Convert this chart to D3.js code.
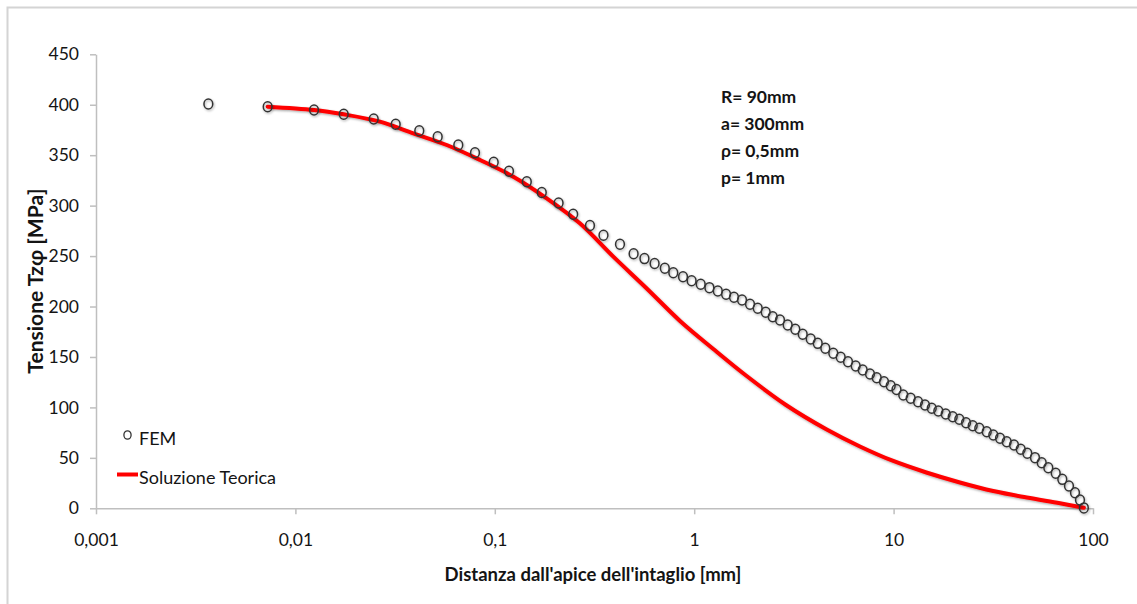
<!DOCTYPE html>
<html>
<head>
<meta charset="utf-8">
<script src="https://cdn.jsdelivr.net/npm/d3@7"></script>
<style>
  html, body { margin: 0; padding: 0; background: #ffffff; }
  svg { display: block; }
  text { font-family: Lato, "Open Sans", "Liberation Sans", sans-serif; fill: #141414; }
</style>
</head>
<body>
<svg id="chart" width="1137" height="604"></svg>
<script>
// ---- data ----
const xTickValues = [0.001, 0.01, 0.1, 1, 10, 100];
const xTickLabels = ["0,001", "0,01", "0,1", "1", "10", "100"];
const yTickValues = [0, 50, 100, 150, 200, 250, 300, 350, 400, 450];

// FEM results: distance [mm], stress [MPa]
const femX = [0.00366, 0.00726, 0.01240, 0.01747, 0.02470, 0.03184, 0.04181, 0.05171, 0.06561, 0.07956,
  0.09874, 0.1178, 0.1447, 0.1720, 0.2089, 0.2472, 0.3001, 0.3508, 0.4244, 0.4967,
  0.5630, 0.6330, 0.7122, 0.7855, 0.8787, 0.9705, 1.078, 1.192, 1.313, 1.445,
  1.583, 1.737, 1.905, 2.082, 2.284, 2.476, 2.693, 2.943, 3.214, 3.500,
  3.839, 4.163, 4.545, 4.984, 5.429, 5.906, 6.455, 6.998, 7.614, 8.227,
  8.951, 9.672, 10.34, 11.18, 12.18, 13.26, 14.37, 15.53, 16.76, 18.25,
  19.79, 21.36, 23.08, 24.93, 26.90, 29.31, 31.62, 34.17, 36.92, 40.16,
  43.40, 46.82, 51.18, 55.30, 59.68, 65.02, 70.15, 75.77, 81.23, 86.05, 90];
const femY = [400.7, 398.1, 394.8, 390.5, 385.9, 380.6, 374.3, 368.3, 360.1, 352.5,
  343.0, 334.0, 323.7, 313.0, 302.6, 291.5, 280.4, 270.7, 261.8, 252.4,
  247.5, 242.7, 237.9, 233.5, 229.6, 225.5, 222.0, 218.7, 215.4, 212.2,
  209.1, 206.5, 202.2, 198.2, 194.3, 189.9, 186.6, 181.7, 177.4, 172.5,
  167.8, 163.5, 158.6, 153.6, 149.7, 145.3, 141.0, 137.1, 133.1, 129.4,
  125.5, 121.5, 117.8, 112.3, 109.0, 105.7, 102.4, 99.1, 96.4, 93.5,
  90.8, 88.2, 84.8, 81.9, 79.3, 75.9, 72.7, 69.4, 66.0, 62.7,
  58.5, 54.5, 50.2, 45.2, 40.2, 34.7, 28.7, 22.1, 15.5, 8.2, 0.4];

// Theoretical solution: distance [mm], stress [MPa]
const teoX = [0.00726, 0.01240, 0.01747, 0.02655, 0.0390, 0.0574, 0.0844, 0.1239, 0.182, 0.267,
  0.393, 0.578, 0.849, 1.247, 1.833, 2.886, 4.62, 6.78, 9.96, 14.6,
  21.5, 31.6, 46.5, 68.3, 90];
const teoY = [398.1, 394.8, 390.5, 383.2, 371.7, 360.1, 345.2, 328.7, 307.3, 282.5,
  249.4, 217.9, 185.7, 157.9, 131.1, 102.4, 78.1, 61.3, 46.9, 35.5,
  25.6, 17.1, 10.7, 5.0, 0.6];

const seriesNames = ["FEM", "Soluzione Teorica"];
const annotations = ["R= 90mm", "a= 300mm", "\u03C1= 0,5mm", "p= 1mm"];
const xTitle = "Distanza dall'apice dell'intaglio [mm]";
const yTitle = "Tensione Tz\u03C6 [MPa]";

// ---- drawing ----
const svg = d3.select("#chart");
const axisColor = "#bfbfbf";

const defs = svg.append("defs");
const f = defs.append("filter").attr("id", "shadow").attr("x", "-50%").attr("y", "-50%").attr("width", "200%").attr("height", "200%");
f.append("feDropShadow").attr("dx", 0.8).attr("dy", 1.2).attr("stdDeviation", 0.8)
  .attr("flood-color", "#000").attr("flood-opacity", 0.35);

// outer frame (top + left edges visible)
svg.append("path").attr("d", "M7.5,604 L7.5,7.5 L1137,7.5")
  .attr("fill", "none").attr("stroke", "#d4d4d4").attr("stroke-width", 2);

const x = d3.scaleLog().domain([0.001, 100]).range([96, 1093]);
const y = d3.scaleLinear().domain([0, 450]).range([508.3, 54.3]);

// y axis
const yAxis = svg.append("g").attr("transform", "translate(96,0)")
  .call(d3.axisLeft(y).tickValues(yTickValues).tickSize(6).tickPadding(11).tickSizeOuter(0));
yAxis.select(".domain").attr("stroke", axisColor).attr("stroke-width", 1.5);
yAxis.selectAll(".tick line").attr("stroke", axisColor).attr("stroke-width", 1.5);
yAxis.selectAll(".tick text").style("font-size", "17.5px").attr("fill", "#141414")
  .style("font-family", "Lato, 'Open Sans', sans-serif");

// x axis
const xAxis = svg.append("g").attr("transform", "translate(0,508.3)")
  .call(d3.axisBottom(x).tickValues(xTickValues)
    .tickFormat((d, i) => xTickLabels[i]).tickSize(6).tickPadding(19).tickSizeOuter(0));
xAxis.select(".domain").attr("stroke", axisColor).attr("stroke-width", 1.5);
xAxis.selectAll(".tick line").attr("stroke", axisColor).attr("stroke-width", 1.5);
xAxis.selectAll(".tick text").style("font-size", "17.5px").attr("fill", "#141414")
  .style("font-family", "Lato, 'Open Sans', sans-serif");

// theoretical line
const teo = teoX.map((d, i) => ({ x: d, v: teoY[i] }));
const line = d3.line().x(d => x(d.x)).y(d => y(d.v)).curve(d3.curveCatmullRom.alpha(0.5));
svg.append("path").datum(teo).attr("d", line)
  .attr("fill", "none").attr("stroke", "#ff0000").attr("stroke-width", 4)
  .attr("stroke-linejoin", "round").attr("stroke-linecap", "round")
  .attr("filter", "url(#shadow)");

// FEM markers
const fem = femX.map((d, i) => ({ x: d, v: femY[i] }));
svg.append("g").attr("filter", "url(#shadow)").selectAll("ellipse").data(fem).join("ellipse")
  .attr("cx", d => x(d.x)).attr("cy", d => y(d.v))
  .attr("rx", 4.4).attr("ry", 5)
  .attr("fill", "none").attr("stroke", "#333333").attr("stroke-width", 1.5);

// annotations
const ann = svg.append("g");
annotations.forEach((t, i) => {
  ann.append("text").attr("x", 721).attr("y", 103 + i * 27)
    .style("font-size", "17.5px").style("font-weight", "bold").text(t);
});

// legend
const lg = svg.append("g");
lg.append("ellipse").attr("cx", 127.5).attr("cy", 435).attr("rx", 3.6).attr("ry", 4.2)
  .attr("fill", "none").attr("stroke", "#333333").attr("stroke-width", 1.3);
lg.append("text").attr("x", 139).attr("y", 444.5).style("font-size", "18px").text(seriesNames[0]);
lg.append("line").attr("x1", 117).attr("x2", 138).attr("y1", 474.5).attr("y2", 474.5)
  .attr("stroke", "#ff0000").attr("stroke-width", 4);
lg.append("text").attr("x", 139).attr("y", 484).style("font-size", "18px").text(seriesNames[1]);

// axis titles
svg.append("text").attr("x", 593).attr("y", 581).attr("text-anchor", "middle")
  .style("font-size", "18.5px").style("font-weight", "bold").text(xTitle);
svg.append("text").attr("transform", "translate(43,281) rotate(-90)").attr("text-anchor", "middle")
  .style("font-size", "21px").style("font-weight", "bold").text(yTitle);
</script>
</body>
</html>
